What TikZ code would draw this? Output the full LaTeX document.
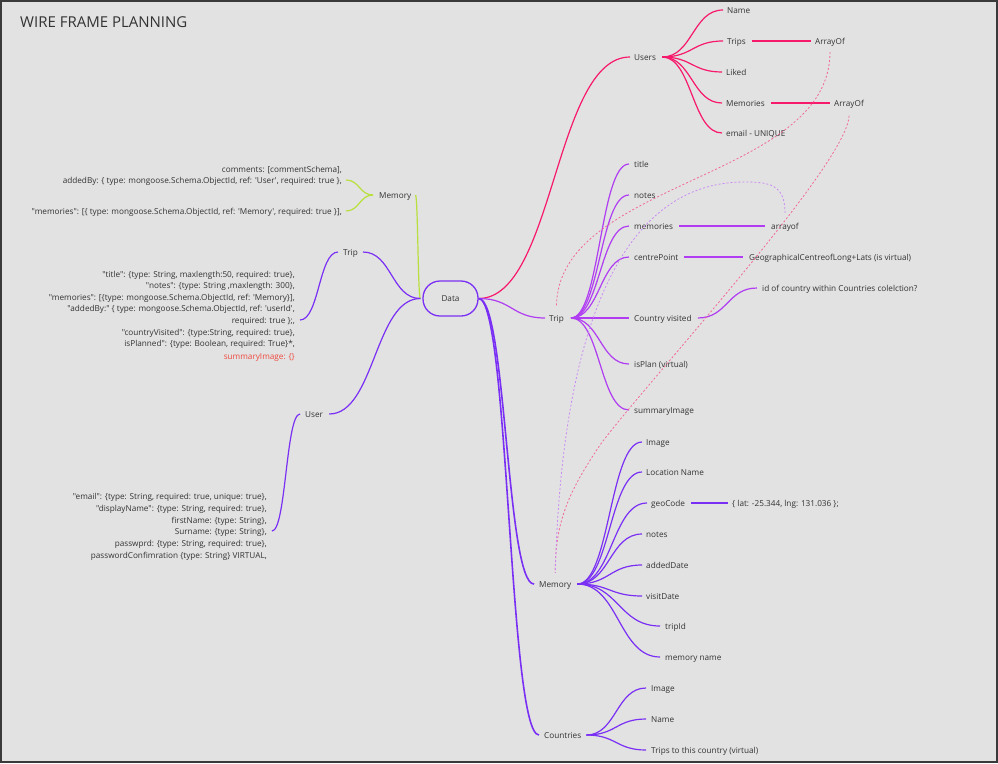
\documentclass[tikz,border=0pt]{standalone}
\usepackage{fontspec}
\setmainfont{Open Sans}[Ligatures=TeXOff]
\usetikzlibrary{calc}
\definecolor{bg}{HTML}{E2E2E2}
\definecolor{framec}{HTML}{3A3A3A}
\definecolor{pinkc}{HTML}{F7196B}
\definecolor{violetc}{HTML}{B13DF2}
\definecolor{indigoc}{HTML}{7A30F4}
\definecolor{limec}{HTML}{B8E03C}
\definecolor{txt}{HTML}{333333}
\definecolor{redtxt}{HTML}{F04A3E}
\definecolor{dpink}{HTML}{F2689A}
\definecolor{dviolet}{HTML}{C98BF2}
\begin{document}
\begin{tikzpicture}[x=1pt,y=-1pt,
  lbl/.style={font=\fontsize{8.2}{10}\selectfont, text=txt, inner sep=0pt, text height=7.4pt, text depth=1.4pt, anchor=west},
  rlbl/.style={lbl, anchor=east},
  hc/.style={to path={let \p1=(\tikztostart), \p2=(\tikztotarget) in .. controls ({(\x1+\x2)/2},\y1) and ({(\x1+\x2)/2},\y2) .. (\tikztotarget) \tikztonodes}},
  pk/.style={draw=pinkc, line width=1.2pt},
  vi/.style={draw=violetc, line width=1.2pt},
  ind/.style={draw=indigoc, line width=1.2pt},
  lim/.style={draw=limec, line width=1.2pt},
  dpk/.style={draw=dpink, line width=0.8pt, dash pattern=on 2pt off 2pt},
  dvi/.style={draw=dviolet, line width=0.8pt, dash pattern=on 2pt off 2pt},
  datab/.style={draw=indigoc, line width=1.3pt, rounded corners=17pt, minimum width=55pt, minimum height=35pt, inner sep=0pt, font=\fontsize{8.2}{10}\selectfont, text=txt}
]
\useasboundingbox (0,0) rectangle (998,763);
\fill[bg] (0,0) rectangle (998,763);
\draw[framec, line width=2pt] (1,1) rectangle (997,761.5);

\node[font=\fontsize{15}{17}\selectfont, text=txt, inner sep=0pt, anchor=base west] (title) at (20,27) {WIRE FRAME PLANNING};

% central node
\node[datab] (data) at (450.5,298.5) {Data};

% ---------- right: Users ----------
\node[lbl] (users) at (634,57) {Users};
\node[lbl] (uname) at (727,10) {Name};
\node[lbl] (utrips) at (727,41) {Trips};
\node[lbl] (uliked) at (726,72) {Liked};
\node[lbl] (umem) at (726,103) {Memories};
\node[lbl] (uemail) at (726,133) {email - UNIQUE};
\node[lbl] (ao1) at (815,41) {ArrayOf};
\node[lbl] (ao2) at (834,103) {ArrayOf};

\draw[pk] (data.east) to[hc] ([xshift=-4pt]users.west);
\foreach \c in {uname,utrips,uliked,umem,uemail}
  \draw[pk] ([xshift=6pt]users.east) to[hc] ([xshift=-4pt]\c.west);
\draw[pk] ([xshift=6pt]utrips.east) -- ([xshift=-4pt]ao1.west);
\draw[pk] ([xshift=6pt]umem.east) -- ([xshift=-4pt]ao2.west);

% ---------- right: Trip ----------
\node[lbl] (tripR) at (549,318) {Trip};
\node[lbl] (ttitle) at (634,164) {title};
\node[lbl] (tnotes) at (634,195) {notes};
\node[lbl] (tmem) at (634,226) {memories};
\node[lbl] (tcentre) at (634,257) {centrePoint};
\node[lbl] (tcountry) at (634,318) {Country visited};
\node[lbl] (tisplan) at (634,364) {isPlan (virtual)};
\node[lbl] (tsummary) at (634,410) {summaryImage};
\node[lbl] (tarr) at (771,226) {arrayof};
\node[lbl] (tgeo) at (749,257) {GeographicalCentreofLong+Lats (is virtual)};
\node[lbl] (tid) at (762,288) {id of country within Countries colelction?};

\draw[vi] (data.east) to[hc] ([xshift=-4pt]tripR.west);
\foreach \c in {ttitle,tnotes,tmem,tcentre,tcountry,tisplan,tsummary}
  \draw[vi] ([xshift=7pt]tripR.east) to[hc] ([xshift=-5pt]\c.west);
\draw[vi] ([xshift=6pt]tmem.east) -- ([xshift=-6pt]tarr.west);
\draw[vi] ([xshift=5pt]tcentre.east) -- ([xshift=-6pt]tgeo.west);
\draw[vi] ([xshift=6pt]tcountry.east) to[hc] ([xshift=-5pt]tid.west);

% ---------- right: Memory ----------
\node[lbl] (memR) at (539,584) {Memory};
\node[lbl] (mimage) at (646,442) {Image};
\node[lbl] (mloc) at (646,472) {Location Name};
\node[lbl] (mgeo) at (651,503) {geoCode};
\node[lbl] (mnotes) at (646,534) {notes};
\node[lbl] (madded) at (646,565) {addedDate};
\node[lbl] (mvisit) at (646,596) {visitDate};
\node[lbl] (mtrip) at (665,626) {tripId};
\node[lbl] (mname) at (665,657) {memory name};
\node[lbl] (mlatlng) at (732,503) {\{ lat: -25.344, lng: 131.036 \};};

\draw[ind, line width=1.6pt] (data.east) to[hc] ([xshift=-5pt]memR.west);
\foreach \c in {mimage,mloc,mnotes,madded,mvisit}
  \draw[ind] ([xshift=6pt]memR.east) to[hc] ([xshift=-4pt]\c.west);
\draw[ind] ([xshift=6pt]memR.east) to[hc] ([xshift=-4pt]mgeo.west);
\draw[ind] ([xshift=6pt]memR.east) to[hc] ([xshift=-5pt]mtrip.west);
\draw[ind] ([xshift=6pt]memR.east) to[hc] ([xshift=-5pt]mname.west);
\draw[ind] ([xshift=6pt]mgeo.east) -- ([xshift=-4pt]mlatlng.west);

% ---------- right: Countries ----------
\node[lbl] (countries) at (544,735) {Countries};
\node[lbl] (cimage) at (651,688) {Image};
\node[lbl] (cname) at (651,719) {Name};
\node[lbl] (ctrips) at (651,750) {Trips to this country (virtual)};

\draw[ind, line width=1.6pt] (data.east) to[hc] ([xshift=-5pt]countries.west);
\foreach \c in {cimage,cname,ctrips}
  \draw[ind] ([xshift=5pt]countries.east) to[hc] ([xshift=-5pt]\c.west);

% ---------- dashed references ----------
\draw[dpk] ($(ao1.south)+(0,6.5)$) .. controls +(0,128) and +(0,-127) .. ($(tripR.north)+(0,-6.5)$);
\draw[dpk] ($(ao2.south)+(0,8)$) .. controls +(0,47) and (640,390) .. (600,445) .. controls (570,490) and (555,520) .. ($(memR.north)+(0,-6.5)$);
\draw[dvi] ($(tarr.north)+(0,-8.5)$) .. controls (785,185) and (770,182) .. (745,182) .. controls (680,182) and (565,220) .. ($(memR.north)+(0,-6.5)$);

% ---------- left: Memory ----------
\node[lbl] (memL) at (379,195) {Memory};
\node[rlbl] (mb1) at (342,169) {comments: [commentSchema],};
\node[rlbl] (mb2) at (342,180) {addedBy: \{ type: mongoose.Schema.ObjectId, ref: 'User', required: true \},};
\node[rlbl] (mb3) at (342,211) {"memories": [\{ type: mongoose.Schema.ObjectId, ref: 'Memory', required: true \}],};
\draw[lim] ([xshift=4pt]memL.east) to[hc] ([xshift=-2pt]data.west);
\draw[lim] ([xshift=-6pt]memL.west) to[hc] ([xshift=4pt]mb2.east);
\draw[lim] ([xshift=-6pt]memL.west) to[hc] ([xshift=4pt]mb3.east);

% ---------- left: Trip ----------
\node[lbl] (tripL) at (343,252) {Trip};
\node[rlbl] (tb1) at (295,274) {"title": \{type: String, maxlength:50, required: true\},};
\node[rlbl] (tb2) at (295,285.5) {"notes": \{type: String ,maxlength: 300\},};
\node[rlbl] (tb3) at (295,297) {"memories": [\{type: mongoose.Schema.ObjectId, ref: 'Memory\}],};
\node[rlbl] (tb4) at (295,308.5) {"addedBy:" \{ type: mongoose.Schema.ObjectId, ref: 'userId',};
\node[rlbl] (tb5) at (295,320) {required: true \};,};
\node[rlbl] (tb6) at (295,332) {"countryVisited": \{type:String, required: true\},};
\node[rlbl] (tb7) at (295,343.5) {isPlanned": \{type: Boolean, required: True\}*,};
\node[rlbl, text=redtxt] (tb8) at (295,356) {summaryImage: \{\}};
\draw[ind] ([xshift=-2pt]data.west) to[hc] ([xshift=5pt]tripL.east);
\draw[ind] ([xshift=-5pt]tripL.west) to[hc] ([xshift=5pt]tb5.east);

% ---------- left: User ----------
\node[lbl] (userL) at (305,414) {User};
\node[rlbl] (ub1) at (267,496) {"email": \{type: String, required: true, unique: true\},};
\node[rlbl] (ub2) at (267,508) {"displayName": \{type: String, required: true\},};
\node[rlbl] (ub3) at (267,520) {firstName: \{type: String\},};
\node[rlbl] (ub4) at (267,531) {Surname: \{type: String\},};
\node[rlbl] (ub5) at (267,543) {passwprd: \{type: String, required: true\},};
\node[rlbl] (ub6) at (267,555) {passwordConfimration \{type: String\} VIRTUAL,};
\draw[ind] ([xshift=-2pt]data.west) to[hc] ([xshift=6pt]userL.east);
\draw[ind] ([xshift=-5pt]userL.west) to[hc] ([xshift=5pt]ub4.east);
\end{tikzpicture}
\end{document}
